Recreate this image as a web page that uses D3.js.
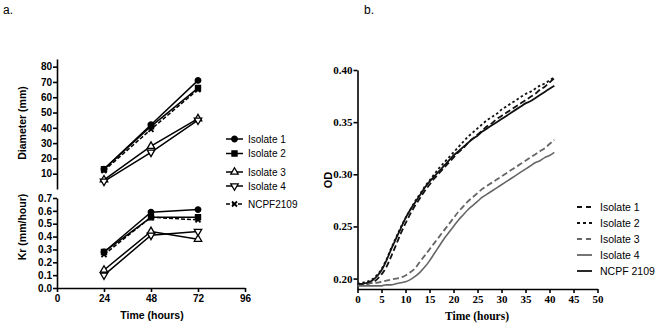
<!DOCTYPE html>
<html>
<head>
<meta charset="utf-8">
<script src="https://cdn.jsdelivr.net/npm/d3@7"></script>
<style>
  body { margin: 0; background: #fff; }
  svg { display: block; }
</style>
</head>
<body>
<div id="chart"></div>
<script>
// panel a: radial growth
const radialHours = [24, 48, 72];
const radialNames = ["Isolate 1", "Isolate 2", "Isolate 3", "Isolate 4", "NCPF2109"];
const diam1 = [13, 42, 71];
const diam2 = [13, 41, 66];
const diam3 = [6, 28, 46];
const diam4 = [5, 24, 45];
const diamN = [12, 39, 65];
const kr1 = [0.28, 0.59, 0.61];
const kr2 = [0.28, 0.55, 0.55];
const kr3 = [0.14, 0.44, 0.38];
const kr4 = [0.10, 0.41, 0.44];
const krN = [0.26, 0.55, 0.53];
const diamTicks = [10, 20, 30, 40, 50, 60, 70, 80];
const krTicks = [0, 0.1, 0.2, 0.3, 0.4, 0.5, 0.6, 0.7];
const hourTicks = [0, 24, 48, 72, 96];

// panel b: OD curves
const odNames = ["Isolate 1", "Isolate 2", "Isolate 3", "Isolate 4", "NCPF 2109"];
const odHours = [0,1,2,3,4,5,6,7,8,9,10,11,12,13,14,15,16,17,18,19,20,21,22,23,24,25,26,27,28,29,30,31,32,33,34,35,36,37,38,39,40,41];
const od1 = [.194,.194,.195,.196,.199,.204,.211,.221,.232,.243,.253,.262,.270,.277,.284,.290,.296,.301,.306,.311,.316,.321,.325,.330,.334,.338,.342,.346,.349,.353,.356,.359,.362,.365,.368,.371,.374,.377,.381,.384,.388,.392];
const od2 = [.195,.196,.197,.199,.203,.209,.218,.229,.239,.249,.258,.266,.274,.281,.288,.294,.300,.306,.311,.316,.321,.326,.331,.336,.340,.344,.348,.352,.355,.358,.362,.365,.368,.371,.374,.377,.379,.382,.385,.387,.390,.393];
const od3 = [.195,.195,.195,.196,.196,.197,.198,.199,.200,.201,.203,.206,.210,.216,.222,.228,.234,.240,.246,.252,.258,.264,.269,.274,.278,.282,.286,.289,.292,.295,.298,.301,.304,.307,.310,.313,.316,.319,.322,.325,.329,.333];
const od4 = [.193,.193,.193,.193,.193,.193,.194,.194,.195,.196,.197,.199,.202,.206,.211,.217,.224,.231,.238,.244,.250,.256,.261,.266,.270,.274,.278,.281,.284,.287,.290,.293,.296,.299,.302,.305,.308,.311,.313,.316,.318,.321];
const odN = [.195,.195,.196,.198,.202,.208,.217,.228,.238,.248,.258,.266,.273,.280,.287,.293,.298,.303,.308,.313,.318,.322,.326,.330,.334,.337,.341,.344,.347,.350,.353,.356,.359,.362,.365,.368,.370,.373,.376,.379,.382,.385];
const odXTicks = [0, 5, 10, 15, 20, 25, 30, 35, 40, 45, 50];
const odYTicks = [0.20, 0.25, 0.30, 0.35, 0.40];

const width = 661, height = 325;
const svg = d3.select("#chart").append("svg")
  .attr("width", width)
  .attr("height", height);

const sans = "Arial, 'Liberation Sans', sans-serif";
const serif = "'Times New Roman', 'Liberation Serif', serif";

svg.append("text").attr("x", 3).attr("y", 14)
  .attr("font-family", sans).attr("font-size", 12).text("a.");
svg.append("text").attr("x", 364).attr("y", 14)
  .attr("font-family", sans).attr("font-size", 12).text("b.");

// ---------- panel a ----------
const xA = d3.scaleLinear().domain([0, 96]).range([57, 245]);
const yDiam = d3.scaleLinear().domain([0, 85]).range([189, 59]);
const yKr = d3.scaleLinear().domain([0, 0.7]).range([288, 198]);

function styleAxis(g, font, size) {
  g.selectAll("path, line").attr("stroke", "#000").attr("stroke-width", 1.6);
  g.selectAll("text").attr("font-family", font).attr("font-weight", "bold")
    .attr("font-size", size).attr("fill", "#000");
}

svg.append("g").attr("transform", "translate(57,0)")
  .call(d3.axisLeft(yDiam).tickValues(diamTicks).tickSize(4).tickSizeOuter(0).tickPadding(1))
  .call(g => styleAxis(g, sans, 10));
svg.append("g").attr("transform", "translate(57,0)")
  .call(d3.axisLeft(yKr).tickValues(krTicks).tickFormat(d3.format(".1f")).tickSize(4).tickSizeOuter(0).tickPadding(1))
  .call(g => styleAxis(g, sans, 10));
svg.append("g").attr("transform", "translate(0,288)")
  .call(d3.axisBottom(xA).tickValues(hourTicks).tickSize(4).tickSizeOuter(0).tickPadding(3))
  .call(g => styleAxis(g, sans, 10));

svg.append("text").attr("transform", "translate(26,123) rotate(-90)")
  .attr("text-anchor", "middle").attr("font-family", sans).attr("font-weight", "bold")
  .attr("font-size", 10.5).text("Diameter (mm)");
svg.append("text").attr("transform", "translate(26,227) rotate(-90)")
  .attr("text-anchor", "middle").attr("font-family", sans).attr("font-weight", "bold")
  .attr("font-size", 10.5).text("Kr (mm/hour)");
svg.append("text").attr("x", 152).attr("y", 319)
  .attr("text-anchor", "middle").attr("font-family", sans).attr("font-weight", "bold")
  .attr("font-size", 10.5).text("Time (hours)");

const markers = [
  { type: d3.symbolCircle, size: 24, rot: 0, fill: "#000", dash: null },
  { type: d3.symbolSquare, size: 26, rot: 0, fill: "#000", dash: null },
  { type: d3.symbolTriangle, size: 24, rot: 0, fill: "#fff", dash: null },
  { type: d3.symbolTriangle, size: 24, rot: 180, fill: "#fff", dash: null },
  { type: d3.symbolTimes, size: 18, rot: 0, fill: "none", dash: "4,2" }
];
const diamSeries = [diam1, diam2, diam3, diam4, diamN];
const krSeries = [kr1, kr2, kr3, kr4, krN];

function drawGroup(series, yScale) {
  series.forEach((vals, i) => {
    const m = markers[i];
    const pts = vals.map((v, j) => [xA(radialHours[j]), yScale(v)]);
    svg.append("path")
      .attr("d", d3.line()(pts))
      .attr("fill", "none").attr("stroke", "#000").attr("stroke-width", 1.5)
      .attr("stroke-dasharray", m.dash);
    svg.append("g").selectAll("path").data(pts).join("path")
      .attr("transform", d => `translate(${d[0]},${d[1]}) rotate(${m.rot})`)
      .attr("d", d3.symbol().type(m.type).size(m.size))
      .attr("fill", m.fill).attr("stroke", "#000").attr("stroke-width", i === 4 ? 1.8 : 1.3);
  });
}
drawGroup(diamSeries, yDiam);
drawGroup(krSeries, yKr);

const legA = [139, 153.5, 172, 186, 204];
radialNames.forEach((name, i) => {
  const m = markers[i];
  const y = legA[i];
  svg.append("line").attr("x1", 226).attr("x2", 243).attr("y1", y).attr("y2", y)
    .attr("stroke", "#000").attr("stroke-width", 1.5).attr("stroke-dasharray", m.dash);
  svg.append("path").attr("transform", `translate(234.5,${y}) rotate(${m.rot})`)
    .attr("d", d3.symbol().type(m.type).size(m.size))
    .attr("fill", m.fill).attr("stroke", "#000").attr("stroke-width", i === 4 ? 1.8 : 1.3);
  svg.append("text").attr("x", 248).attr("y", y).attr("dy", "0.35em")
    .attr("font-family", sans).attr("font-size", 10).text(name);
});

// ---------- panel b ----------
const xB = d3.scaleLinear().domain([0, 50]).range([357.5, 597.5]);
const yB = d3.scaleLinear().domain([0.19, 0.40]).range([289, 70]);

svg.append("g").attr("transform", "translate(357.5,0)")
  .call(d3.axisLeft(yB).tickValues(odYTicks).tickFormat(d3.format(".2f")).tickSize(4).tickSizeOuter(0).tickPadding(1))
  .call(g => styleAxis(g, serif, 11));
svg.append("g").attr("transform", "translate(0,289)")
  .call(d3.axisBottom(xB).tickValues(odXTicks).tickSize(4).tickSizeOuter(0).tickPadding(2))
  .call(g => styleAxis(g, serif, 11));

svg.append("text").attr("transform", "translate(328,180) rotate(-90)")
  .attr("text-anchor", "middle").attr("dy", "0.35em").attr("font-family", sans).attr("font-weight", "bold")
  .attr("font-size", 11).text("OD");
svg.append("text").attr("x", 477).attr("y", 320)
  .attr("text-anchor", "middle").attr("font-family", serif).attr("font-weight", "bold")
  .attr("font-size", 11.5).text("Time (hours)");

const odSeries = [od1, od2, od3, od4, odN];
const odStyles = [
  { color: "#111", dash: "6,3", w: 1.8 },
  { color: "#111", dash: "2.5,2.5", w: 1.8 },
  { color: "#666", dash: "6,3", w: 1.8 },
  { color: "#666", dash: null, w: 1.6 },
  { color: "#111", dash: null, w: 1.8 }
];
const odLine = d3.line().x((d, i) => xB(odHours[i])).y(d => yB(d)).curve(d3.curveMonotoneX);
odSeries.forEach((vals, i) => {
  svg.append("path").attr("d", odLine(vals))
    .attr("fill", "none").attr("stroke", odStyles[i].color)
    .attr("stroke-width", odStyles[i].w).attr("stroke-dasharray", odStyles[i].dash);
});

const legB = [207, 223, 239, 255, 271];
odNames.forEach((name, i) => {
  const y = legB[i];
  svg.append("line").attr("x1", 577).attr("x2", 592).attr("y1", y).attr("y2", y)
    .attr("stroke", odStyles[i].color).attr("stroke-width", 1.8)
    .attr("stroke-dasharray", i === 1 ? "3,3" : (odStyles[i].dash ? "5,4" : null));
  svg.append("text").attr("x", 600).attr("y", y).attr("dy", "0.35em")
    .attr("font-family", sans).attr("font-size", 10.5).text(name);
});
</script>
</body>
</html>
